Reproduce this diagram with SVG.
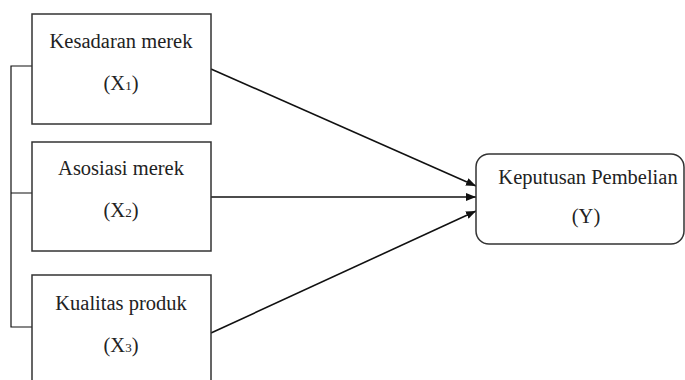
<svg xmlns="http://www.w3.org/2000/svg" width="685" height="380" viewBox="0 0 685 380">
<defs>
<style>
.box{fill:#fff;stroke:#333;stroke-width:1.5}
.t{font-family:"Liberation Serif","Times New Roman",serif;font-size:20.5px;fill:#222;text-anchor:middle}
.sub{font-size:13px}
.ln{stroke:#111;stroke-width:1.6;fill:none}
.br{stroke:#111;stroke-width:1.2;fill:none}
</style>
<marker id="ah" markerWidth="10" markerHeight="8" refX="10" refY="4" orient="auto" markerUnits="userSpaceOnUse">
<path d="M0,0 L10,4 L0,8 Z" fill="#111"/>
</marker>
</defs>
<rect width="685" height="380" fill="#fff"/>
<g id="connectors">
<path class="br" d="M32,66 H11 V327 H32 M11,193 H32"/>
<line class="ln" x1="211" y1="69" x2="476" y2="186" marker-end="url(#ah)"/>
<line class="ln" x1="211" y1="197" x2="476" y2="197" marker-end="url(#ah)"/>
<line class="ln" x1="211" y1="333" x2="476" y2="211" marker-end="url(#ah)"/>
</g>
<g id="x1">
<rect class="box" x="32" y="14" width="179" height="110"/>
<text class="t" x="121" y="48">Kesadaran merek</text>
<text class="t" x="121" y="90">(X<tspan class="sub">1</tspan>)</text>
</g>
<g id="x2">
<rect class="box" x="32" y="142" width="179" height="109"/>
<text class="t" x="121" y="175">Asosiasi merek</text>
<text class="t" x="121" y="217">(X<tspan class="sub">2</tspan>)</text>
</g>
<g id="x3">
<rect class="box" x="32" y="275" width="179" height="120"/>
<text class="t" x="121" y="310">Kualitas produk</text>
<text class="t" x="121" y="352">(X<tspan class="sub">3</tspan>)</text>
</g>
<g id="y">
<rect class="box" x="476" y="154" width="208" height="90" rx="13" ry="13"/>
<text class="t" x="588" y="184">Keputusan Pembelian</text>
<text class="t" x="586" y="223">(Y)</text>
</g>
</svg>
